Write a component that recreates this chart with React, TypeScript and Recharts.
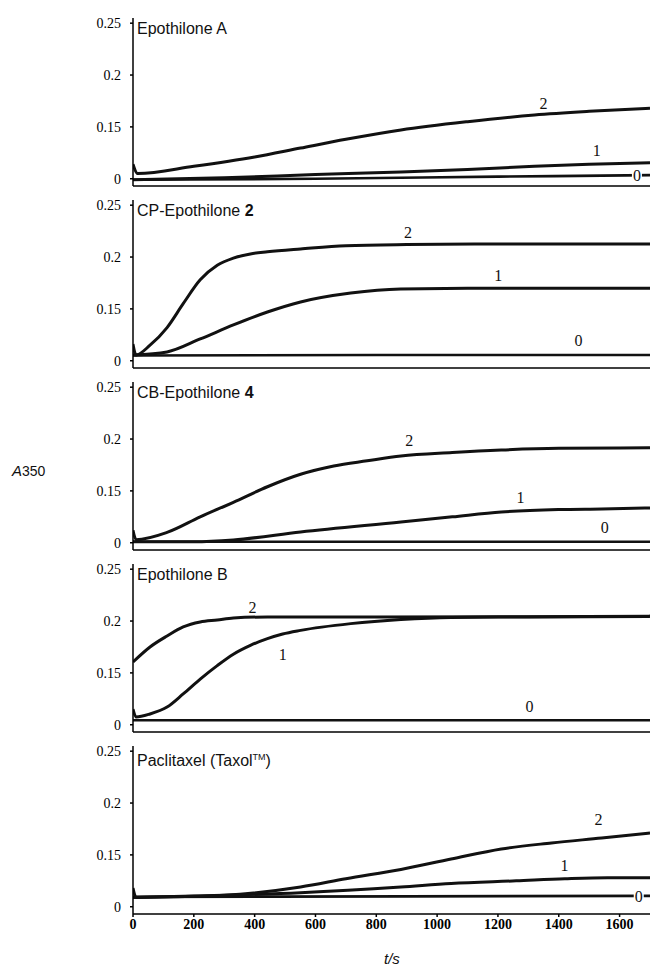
import React from 'react'
import { LineChart, Line, XAxis, YAxis, ReferenceDot } from 'recharts'

// time axis (s) and absorbance axis; the lowest tick is printed as "0"
const xTicks = [0, 200, 400, 600, 800, 1000, 1200, 1400, 1600]
const yTicks = [0.1, 0.15, 0.2, 0.25]
const yTickText = ['0', '0.15', '0.2', '0.25']

// [t, A350]; curve 0 / 1 / 2
const epoA0 = [[0, 0.099], [600, 0.1], [1200, 0.102], [1700, 0.1035]]
const epoA1 = [[0, 0.099], [300, 0.101], [600, 0.104], [881, 0.1065], [1100, 0.109], [1320, 0.112], [1500, 0.114], [1700, 0.1155]]
const epoA2 = [[0, 0.114], [15, 0.105], [200, 0.112], [400, 0.121], [551, 0.1296], [700, 0.138], [881, 0.147], [1100, 0.155], [1320, 0.1615], [1500, 0.165], [1700, 0.168]]

const cp0 = [[0, 0.105], [800, 0.1055], [1700, 0.1055]]
const cp1 = [[0, 0.1056], [112, 0.1085], [221, 0.121], [330, 0.1345], [442, 0.147], [551, 0.1567], [716, 0.1653], [880, 0.1692], [1100, 0.1698], [1700, 0.1698]]
const cp2 = [[0, 0.116], [10, 0.1056], [56, 0.115], [112, 0.132], [165, 0.155], [221, 0.178], [277, 0.192], [330, 0.199], [386, 0.203], [442, 0.205], [551, 0.2078], [700, 0.211], [900, 0.212], [1200, 0.2125], [1700, 0.2125]]

const cb0 = [[0, 0.101], [900, 0.101], [1700, 0.101]]
const cb1 = [[0, 0.101], [200, 0.101], [330, 0.1027], [551, 0.1104], [881, 0.12], [1050, 0.125], [1211, 0.1297], [1400, 0.132], [1541, 0.1326], [1700, 0.1335]]
const cb2 = [[0, 0.112], [10, 0.103], [112, 0.11], [221, 0.125], [330, 0.139], [442, 0.154], [551, 0.166], [660, 0.174], [770, 0.179], [881, 0.1837], [1050, 0.187], [1211, 0.1894], [1400, 0.191], [1700, 0.1915]]

const epoB0 = [[0, 0.1044], [900, 0.1044], [1700, 0.1044]]
const epoB1 = [[0, 0.115], [10, 0.1075], [56, 0.1104], [112, 0.1171], [165, 0.1297], [221, 0.144], [277, 0.157], [330, 0.168], [386, 0.1765], [442, 0.183], [492, 0.1875], [551, 0.191], [716, 0.1975], [881, 0.2015], [1046, 0.2035], [1300, 0.204], [1700, 0.2045]]
const epoB2 = [[0, 0.1605], [56, 0.175], [112, 0.1856], [165, 0.1943], [221, 0.1991], [277, 0.201], [330, 0.2029], [442, 0.2039], [800, 0.204], [1700, 0.2045]]

const tax0 = [[0, 0.1095], [900, 0.11], [1700, 0.1105]]
const tax1 = [[0, 0.109], [300, 0.111], [551, 0.1135], [881, 0.119], [1046, 0.1225], [1260, 0.125], [1420, 0.127], [1560, 0.128], [1700, 0.128]]
const tax2 = [[0, 0.118], [10, 0.109], [200, 0.11], [300, 0.111], [551, 0.119], [700, 0.127], [881, 0.136], [1046, 0.146], [1211, 0.1557], [1376, 0.1615], [1541, 0.1663], [1700, 0.1711]]

// curve number labels: [text, t, A350]
const epoALabels = [['2', 1350, 0.173], ['1', 1525, 0.1277], ['0', 1657, 0.1036]]
const cpLabels = [['2', 904, 0.224], ['1', 1201, 0.182], ['0', 1465, 0.12]]
const cbLabels = [['2', 908, 0.199], ['1', 1274, 0.144], ['0', 1551, 0.115]]
const epoBLabels = [['2', 393, 0.2135], ['1', 492, 0.168], ['0', 1304, 0.118]]
const taxLabels = [['2', 1531, 0.1846], ['1', 1419, 0.1393], ['0', 1663, 0.11]]

const serif = '"Liberation Serif", "DejaVu Serif", serif'
const sans = '"Liberation Sans", Arial, sans-serif'

const panels = [
  { key: 'a', title: <>Epothilone A</>, curves: [epoA0, epoA1, epoA2], labels: epoALabels },
  { key: 'cp', title: <>CP-Epothilone <b>2</b></>, curves: [cp0, cp1, cp2], labels: cpLabels },
  { key: 'cb', title: <>CB-Epothilone <b>4</b></>, curves: [cb0, cb1, cb2], labels: cbLabels },
  { key: 'b', title: <>Epothilone B</>, curves: [epoB0, epoB1, epoB2], labels: epoBLabels },
  { key: 'p', title: <>Paclitaxel (Taxol<sup style={{ fontSize: 9 }}>TM</sup>)</>, curves: [tax0, tax1, tax2], labels: taxLabels },
]

const PANEL_STEP = 182
const PLOT_H = 168

function CurveLabel({ cx, cy, text }: { cx: number; cy: number; text: string }) {
  const onLine = text === '0'
  return (
    <g>
      {onLine && <rect x={cx - 5} y={cy - 8} width={10} height={16} fill="#fff" />}
      <text x={cx} y={cy} textAnchor="middle" dominantBaseline="central"
        fontFamily={serif} fontSize={16} fill="#111">{text}</text>
    </g>
  )
}

function Panel({ panel, last }: { panel: any; last: boolean }) {
  const xH = last ? 30 : 2
  const height = 7 + PLOT_H + xH + (last ? 7 : 5)
  return (
    <LineChart width={653} height={height} margin={{ top: 7, right: 3, left: 0, bottom: last ? 7 : 5 }}>
      <XAxis type="number" dataKey="t" domain={[0, 1700]} ticks={xTicks} allowDataOverflow
        height={xH} stroke="#000" strokeWidth={1.5} tickSize={3}
        tick={last ? { fill: '#000', fontFamily: serif, fontWeight: 'bold', fontSize: 14 } : false}
        tickLine={last} />
      <YAxis type="number" domain={[0.093, 0.255]} ticks={yTicks} allowDataOverflow width={133}
        stroke="#000" strokeWidth={1.5} tickSize={3} tickMargin={9}
        tickFormatter={(v: number) => yTickText[yTicks.indexOf(v)] ?? ''}
        tick={{ fill: '#000', fontFamily: serif, fontSize: 14 }} />
      {panel.curves.map((c: number[][], i: number) => (
        <Line key={i} data={c.map(([t, a]) => ({ t, a }))} dataKey="a" type="monotone"
          stroke="#111" strokeWidth={i === 0 ? 2.6 : 3} dot={false} isAnimationActive={false} />
      ))}
      {panel.labels.map((l: any[], i: number) => (
        <ReferenceDot key={'l' + i} x={l[1]} y={l[2]} r={0} ifOverflow="visible"
          shape={(p: any) => <CurveLabel cx={p.cx} cy={p.cy} text={l[0]} />} />
      ))}
    </LineChart>
  )
}

export default function App() {
  return (
    <div style={{ position: 'absolute', left: 0, top: 0, width: 653, height: 974, background: '#fff' }}>
      {panels.map((p, i) => (
        <div key={p.key} style={{ position: 'absolute', left: 0, top: 11 + i * PANEL_STEP }}>
          <Panel panel={p} last={i === panels.length - 1} />
          <div style={{ position: 'absolute', left: 137, top: 8, fontFamily: sans, fontSize: 16, lineHeight: '20px', color: '#111', whiteSpace: 'nowrap' }}>
            {p.title}
          </div>
        </div>
      ))}
      <div style={{ position: 'absolute', left: 12, top: 462, fontFamily: sans, fontSize: 15, color: '#111' }}>
        <i>A</i><span style={{ fontSize: 14 }}>350</span>
      </div>
      <div style={{ position: 'absolute', left: 384, top: 950, fontFamily: sans, fontSize: 15, fontStyle: 'italic', color: '#111' }}>
        t/s
      </div>
    </div>
  )
}
